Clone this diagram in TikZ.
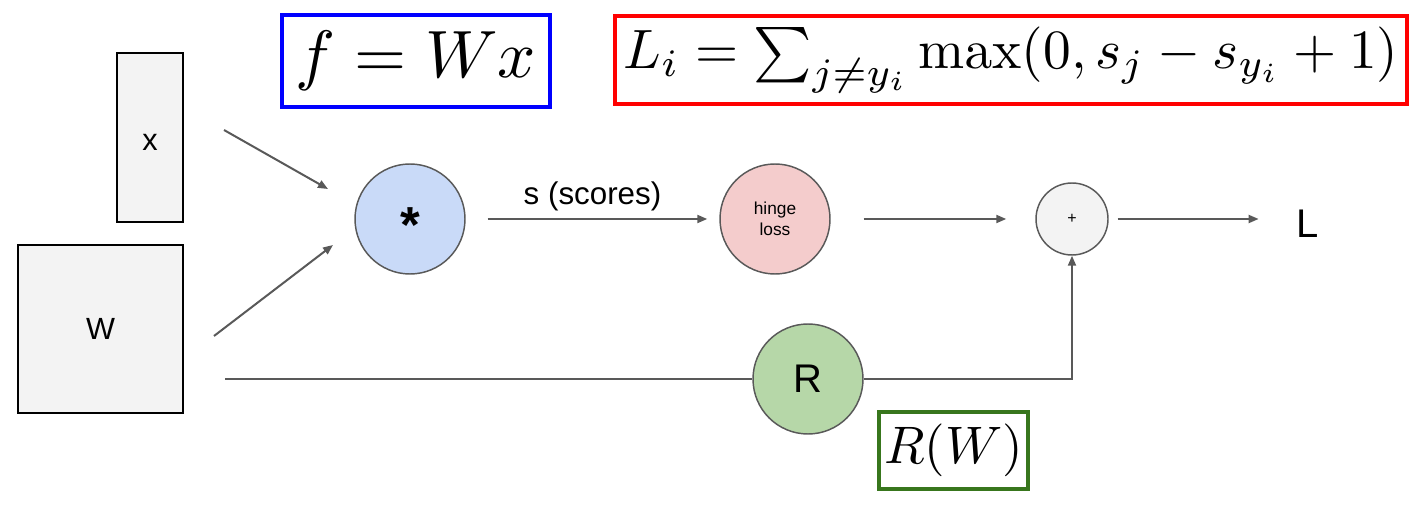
\documentclass[tikz,border=0pt]{standalone}
\usepackage[no-math]{fontspec}
\newfontfamily\arial{Liberation Sans}
\usetikzlibrary{arrows.meta}
\definecolor{lg}{HTML}{595959}
\definecolor{cblue}{HTML}{C9DAF8}
\definecolor{cred}{HTML}{F4CCCC}
\definecolor{cgreen}{HTML}{B6D7A8}
\definecolor{cgray}{HTML}{F3F3F3}
\definecolor{bgreen}{HTML}{38761D}
\newcommand{\fs}[2]{\fontsize{#1}{#2}\selectfont}
\tikzset{
  inbox/.style={draw=black, line width=1.6pt, fill=cgray, inner sep=0pt, font=\arial\fs{23pt}{28pt}},
  opcirc/.style={circle, draw=lg, line width=1.1pt, inner sep=0pt, minimum size=82.5pt},
  conn/.style={draw=lg, line width=1.5pt, -{Triangle[length=7.5pt,width=6pt]}},
  plainconn/.style={draw=lg, line width=1.5pt},
  fbox/.style={draw, inner sep=0pt, line width=3pt},
}
\begin{document}
\begin{tikzpicture}[x=0.75pt,y=-0.75pt]
\useasboundingbox (0,0) rectangle (1425,509);
% formula boxes
\node[fbox, draw=blue, minimum width=201pt, minimum height=69pt] (fwx) at (416,61)
  {\resizebox{180pt}{!}{$f = Wx$}};
\node[fbox, draw=red, minimum width=594pt, minimum height=66pt] (loss) at (1011,60)
  {\resizebox{581pt}{!}{$L_i = \sum_{j\neq y_i} \max(0, s_j - s_{y_i} + 1)$}};
\node[fbox, draw=bgreen, line width=2.5pt, minimum width=111.75pt, minimum height=57.75pt] (reg) at (953.5,450.5)
  {\resizebox{104pt}{!}{$R(W)$}};
% inputs
\node[inbox, minimum width=49.5pt, minimum height=126.75pt, text height=19pt, text depth=0pt] (x) at (150,137.5) {x};
\node[inbox, minimum width=123.75pt, minimum height=126pt] (W) at (100.5,329) {W};
% operations
\node[opcirc, fill=cblue, font=\arial\fs{38pt}{44pt}\bfseries] (star) at (410,219) {\raisebox{-0.47em}[0pt][0pt]{*}};
\node[opcirc, fill=cred, align=center, font=\arial\fs{13pt}{16pt}] (hinge) at (775,219) {hinge\\loss};
\node[opcirc, fill=cgray, minimum size=54pt, font=\arial\fs{12pt}{14pt}] (plus) at (1072,219) {+};
\node[inner sep=0pt, font=\arial\fs{30pt}{34pt}] (L) at (1308,224) {L};
\node[opcirc, fill=cgreen, font=\arial\fs{30pt}{34pt}] (R) at (808,379) {R};
% connectors
\coordinate (xa) at (224,130);
\coordinate (xb) at (328,189);
\coordinate (wa) at (214,336);
\coordinate (wb) at (333,245);
\coordinate (ra) at (225,379);
\draw[conn] (xa) -- (xb);
\draw[conn] (wa) -- (wb);
\draw[conn, shorten <=16.5pt, shorten >=9pt] (star.east) -- node[above=2pt, text=black, font=\arial\fs{23.5pt}{27pt}] {s (scores)} (hinge.west);
\draw[conn] ([xshift=24.75pt]hinge.east) -- ([xshift=-21.75pt]plus.west);
\draw[conn] ([xshift=6.75pt]plus.east) -- ([xshift=-28.5pt]L.west |- plus.east);
\draw[plainconn] (ra) -- (R.west);
\draw[conn] (R.east) -| (plus.south);
\end{tikzpicture}
\end{document}
